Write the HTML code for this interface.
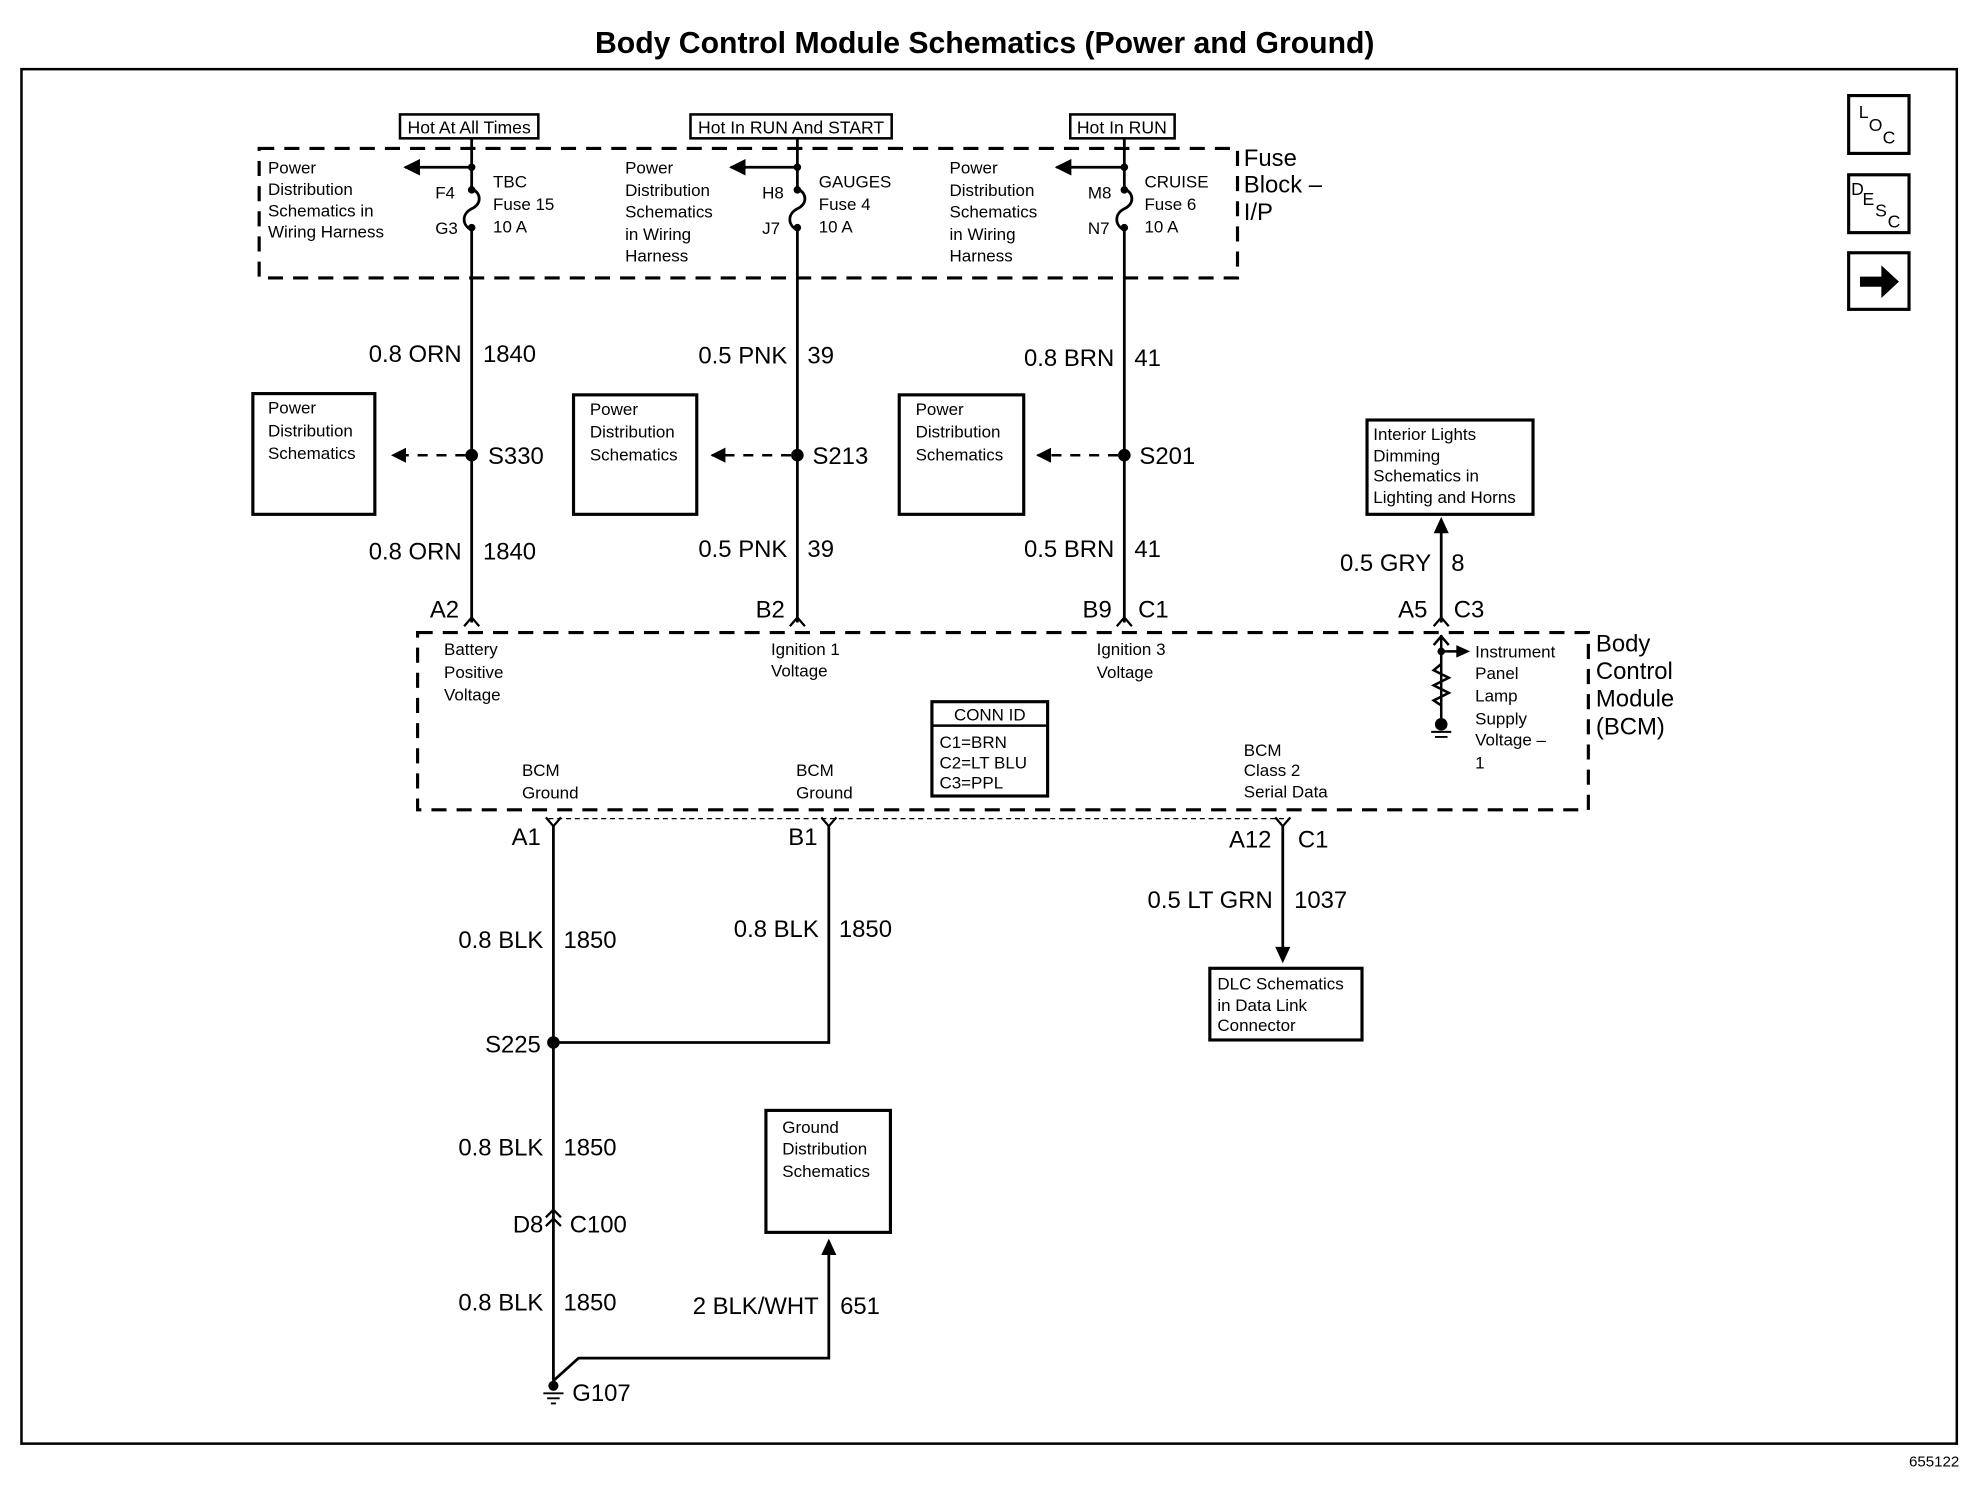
<!DOCTYPE html>
<html><head><meta charset="utf-8"><style>
html,body{margin:0;padding:0;background:#fff}
svg{display:block}
text{font-family:"Liberation Sans",Arial,sans-serif;fill:#000}
.s{font-size:13.5px}
.w{font-size:19px}
.b{font-size:19px}
</style></head><body>
<svg width="1972" height="1504" viewBox="0 0 1568 1196" xmlns="http://www.w3.org/2000/svg">
<defs>
<marker id="ar" viewBox="0 0 10 10" refX="9" refY="5" markerWidth="6" markerHeight="6" orient="auto"><path d="M0,0L10,5L0,10z" fill="#000"/></marker>
</defs>
<g stroke="#000" fill="none">
<text x="783" y="42" text-anchor="middle" font-size="24" font-weight="bold" stroke="none">Body Control Module Schematics (Power and Ground)</text>
<rect x="17" y="55" width="1539" height="1093" stroke-width="2"/>
<text x="1558" y="1166" text-anchor="end" font-size="12" stroke="none">655122</text>
<rect x="1470" y="76" width="48" height="46" stroke-width="2.5"/>
<text x="1478" y="94" font-size="14" stroke="none">L</text><text x="1486" y="104" font-size="14" stroke="none">O</text><text x="1497" y="114" font-size="14" stroke="none">C</text>
<rect x="1470" y="139" width="48" height="46" stroke-width="2.5"/>
<text x="1472" y="155" font-size="14" stroke="none">D</text><text x="1481" y="163" font-size="14" stroke="none">E</text><text x="1491" y="172" font-size="14" stroke="none">S</text><text x="1501" y="181" font-size="14" stroke="none">C</text>
<rect x="1470" y="201" width="48" height="45" stroke-width="2.5"/>
<path d="M1479,220h17v-9l14,13l-14,13v-9h-17z" fill="#000" stroke="none"/>
<rect x="206" y="118" width="778" height="103" stroke-width="2.5" stroke-dasharray="12,8"/>
<text x="989" y="132" class="b" stroke="none">Fuse</text>
<text x="989" y="153" class="b" stroke="none">Block –</text>
<text x="989" y="175" class="b" stroke="none">I/P</text>
<rect x="318" y="91" width="110" height="19" stroke-width="2"/>
<text x="373" y="106" text-anchor="middle" font-size="14" stroke="none">Hot At All Times</text>
<rect x="549" y="91" width="160" height="19" stroke-width="2"/>
<text x="629" y="106" text-anchor="middle" font-size="14" stroke="none">Hot In RUN And START</text>
<rect x="851" y="91" width="83" height="19" stroke-width="2"/>
<text x="892" y="106" text-anchor="middle" font-size="14" stroke="none">Hot In RUN</text>
<g stroke-width="2.2">
<path d="M375,110V150M375,183V495"/><path d="M375,150c8,4 8,12 0,16c-8,4 -8,13 0,17"/>
<path d="M634,110V150M634,183V495"/><path d="M634,150c8,4 8,12 0,16c-8,4 -8,13 0,17"/>
<path d="M894,110V150M894,183V495"/><path d="M894,150c8,4 8,12 0,16c-8,4 -8,13 0,17"/>
<path d="M375,133H322" marker-end="url(#ar)"/>
<path d="M634,133H581" marker-end="url(#ar)"/>
<path d="M894,133H840" marker-end="url(#ar)"/>
</g>
<g fill="#000" stroke="none">
<circle cx="375" cy="133" r="3"/><circle cx="375" cy="151" r="3"/><circle cx="375" cy="181" r="3"/>
<circle cx="634" cy="133" r="3"/><circle cx="634" cy="151" r="3"/><circle cx="634" cy="181" r="3"/>
<circle cx="894" cy="133" r="3"/><circle cx="894" cy="151" r="3"/><circle cx="894" cy="181" r="3"/>
</g>
<g class="s" stroke="none">
<text x="213" y="138">Power</text><text x="213" y="155">Distribution</text><text x="213" y="172">Schematics in</text><text x="213" y="189">Wiring Harness</text>
<text x="346" y="158">F4</text><text x="346" y="186">G3</text>
<text x="392" y="149">TBC</text><text x="392" y="167">Fuse 15</text><text x="392" y="185">10 A</text>
<text x="497" y="138">Power</text><text x="497" y="156">Distribution</text><text x="497" y="173">Schematics</text><text x="497" y="191">in Wiring</text><text x="497" y="208">Harness</text>
<text x="606" y="158">H8</text><text x="606" y="186">J7</text>
<text x="651" y="149">GAUGES</text><text x="651" y="167">Fuse 4</text><text x="651" y="185">10 A</text>
<text x="755" y="138">Power</text><text x="755" y="156">Distribution</text><text x="755" y="173">Schematics</text><text x="755" y="191">in Wiring</text><text x="755" y="208">Harness</text>
<text x="865" y="158">M8</text><text x="865" y="186">N7</text>
<text x="910" y="149">CRUISE</text><text x="910" y="167">Fuse 6</text><text x="910" y="185">10 A</text>
</g>
<g class="w" stroke="none">
<text x="367" y="288" text-anchor="end">0.8 ORN</text><text x="384" y="288">1840</text>
<text x="626" y="289" text-anchor="end">0.5 PNK</text><text x="642" y="289">39</text>
<text x="886" y="291" text-anchor="end">0.8 BRN</text><text x="902" y="291">41</text>
<text x="367" y="445" text-anchor="end">0.8 ORN</text><text x="384" y="445">1840</text>
<text x="626" y="443" text-anchor="end">0.5 PNK</text><text x="642" y="443">39</text>
<text x="886" y="443" text-anchor="end">0.5 BRN</text><text x="902" y="443">41</text>
<text x="388" y="369">S330</text><text x="646" y="369">S213</text><text x="906" y="369">S201</text>
<text x="1138" y="454" text-anchor="end">0.5 GRY</text><text x="1154" y="454">8</text>
<text x="365" y="491" text-anchor="end">A2</text>
<text x="624" y="491" text-anchor="end">B2</text>
<text x="884" y="491" text-anchor="end">B9</text><text x="905" y="491">C1</text>
<text x="1135" y="491" text-anchor="end">A5</text><text x="1156" y="491">C3</text>
</g>
<g fill="#000" stroke="none"><circle cx="375" cy="362" r="5"/><circle cx="634" cy="362" r="5"/><circle cx="894" cy="362" r="5"/></g>
<g stroke-width="2" stroke-dasharray="8,7">
<path d="M370,362H312" marker-end="url(#ar)"/><path d="M629,362H566" marker-end="url(#ar)"/><path d="M889,362H825" marker-end="url(#ar)"/>
</g>
<rect x="201" y="313" width="97" height="96" stroke-width="2.5"/>
<rect x="456" y="314" width="98" height="95" stroke-width="2.5"/>
<rect x="715" y="314" width="99" height="95" stroke-width="2.5"/>
<g class="s" stroke="none">
<text x="213" y="329">Power</text><text x="213" y="347">Distribution</text><text x="213" y="365">Schematics</text>
<text x="469" y="330">Power</text><text x="469" y="348">Distribution</text><text x="469" y="366">Schematics</text>
<text x="728" y="330">Power</text><text x="728" y="348">Distribution</text><text x="728" y="366">Schematics</text>
</g>
<rect x="1087" y="334" width="132" height="75" stroke-width="2.5"/>
<g class="s" stroke="none"><text x="1092" y="350">Interior Lights</text><text x="1092" y="367">Dimming</text><text x="1092" y="383">Schematics in</text><text x="1092" y="400">Lighting and Horns</text></g>
<path d="M1146,495V420" stroke-width="2.2"/><path d="M1140,424L1146,411L1152,424z" fill="#000" stroke="none"/>
<g stroke-width="1.8">
<path d="M369,498l6,-7l6,7M628,498l6,-7l6,7M888,498l6,-7l6,7M1140,498l6,-7l6,7"/>
</g>
<rect x="332" y="503" width="931" height="141" stroke-width="2.5" stroke-dasharray="12,8"/>
<text x="1269" y="518" class="b" stroke="none">Body</text>
<text x="1269" y="540" class="b" stroke="none">Control</text>
<text x="1269" y="562" class="b" stroke="none">Module</text>
<text x="1269" y="584" class="b" stroke="none">(BCM)</text>
<g class="s" stroke="none">
<text x="353" y="521">Battery</text><text x="353" y="539">Positive</text><text x="353" y="557">Voltage</text>
<text x="613" y="521">Ignition 1</text><text x="613" y="538">Voltage</text>
<text x="872" y="521">Ignition 3</text><text x="872" y="539">Voltage</text>
<text x="1173" y="523">Instrument</text><text x="1173" y="540">Panel</text><text x="1173" y="558">Lamp</text><text x="1173" y="576">Supply</text><text x="1173" y="593">Voltage –</text><text x="1173" y="611">1</text>
<text x="415" y="617">BCM</text><text x="415" y="635">Ground</text>
<text x="633" y="617">BCM</text><text x="633" y="635">Ground</text>
<text x="989" y="601">BCM</text><text x="989" y="617">Class 2</text><text x="989" y="634">Serial Data</text>
</g>
<path d="M1146,505V571M1140,513l6,-7l6,7M1146,518H1160" stroke-width="2"/>
<path d="M1158,513l11,5l-11,5z" fill="#000" stroke="none"/>
<path d="M1146,528l-6,5l12,6l-12,6l12,6l-12,6l6,4" stroke-width="2"/>
<circle cx="1146" cy="518" r="3" fill="#000" stroke="none"/>
<circle cx="1146" cy="576" r="5" fill="#000" stroke="none"/>
<path d="M1138,582h16M1141,586h10" stroke-width="1.5"/>
<rect x="741" y="558" width="92" height="75" stroke-width="2.5"/>
<line x1="741" y1="577" x2="833" y2="577" stroke-width="2"/>
<g class="s" stroke="none"><text x="787" y="573" text-anchor="middle">CONN ID</text><text x="747" y="595">C1=BRN</text><text x="747" y="611">C2=LT BLU</text><text x="747" y="627">C3=PPL</text></g>
<path d="M436,651H1024" stroke-width="1" stroke-dasharray="4,3"/>
<g stroke-width="1.8"><path d="M434,650l6,7l6,-7M653,650l6,7l6,-7M1014,650l6,7l6,-7"/></g>
<g stroke-width="2.2">
<path d="M440,657V1102"/><path d="M659,657V829H440"/><path d="M1020,657V755"/>
<path d="M659,995V1080H460L440,1098"/>
</g>
<path d="M1014,753L1020,766L1026,753z" fill="#000" stroke="none"/>
<path d="M653,998L659,985L665,998z" fill="#000" stroke="none"/>
<circle cx="440" cy="829" r="5" fill="#000" stroke="none"/>
<path d="M434,968l6,-6l6,6M434,975l6,-6l6,6" stroke-width="1.8"/>
<circle cx="440" cy="1102" r="4" fill="#000" stroke="none"/>
<path d="M432,1108h16M435,1112h10M438,1116h4" stroke-width="1.5"/>
<g class="w" stroke="none">
<text x="430" y="672" text-anchor="end">A1</text><text x="650" y="672" text-anchor="end">B1</text>
<text x="1011" y="674" text-anchor="end">A12</text><text x="1032" y="674">C1</text>
<text x="1012" y="722" text-anchor="end">0.5 LT GRN</text><text x="1029" y="722">1037</text>
<text x="432" y="754" text-anchor="end">0.8 BLK</text><text x="448" y="754">1850</text>
<text x="651" y="745" text-anchor="end">0.8 BLK</text><text x="667" y="745">1850</text>
<text x="430" y="837" text-anchor="end">S225</text>
<text x="432" y="919" text-anchor="end">0.8 BLK</text><text x="448" y="919">1850</text>
<text x="432" y="980" text-anchor="end">D8</text><text x="453" y="980">C100</text>
<text x="432" y="1042" text-anchor="end">0.8 BLK</text><text x="448" y="1042">1850</text>
<text x="651" y="1045" text-anchor="end">2 BLK/WHT</text><text x="668" y="1045">651</text>
<text x="455" y="1114">G107</text>
</g>
<rect x="962" y="770" width="121" height="57" stroke-width="2.5"/>
<g class="s" stroke="none"><text x="968" y="787">DLC Schematics</text><text x="968" y="804">in Data Link</text><text x="968" y="820">Connector</text></g>
<rect x="609" y="883" width="99" height="97" stroke-width="2.5"/>
<g class="s" stroke="none"><text x="622" y="901">Ground</text><text x="622" y="918">Distribution</text><text x="622" y="936">Schematics</text></g>
</g>
</svg>
</body></html>
